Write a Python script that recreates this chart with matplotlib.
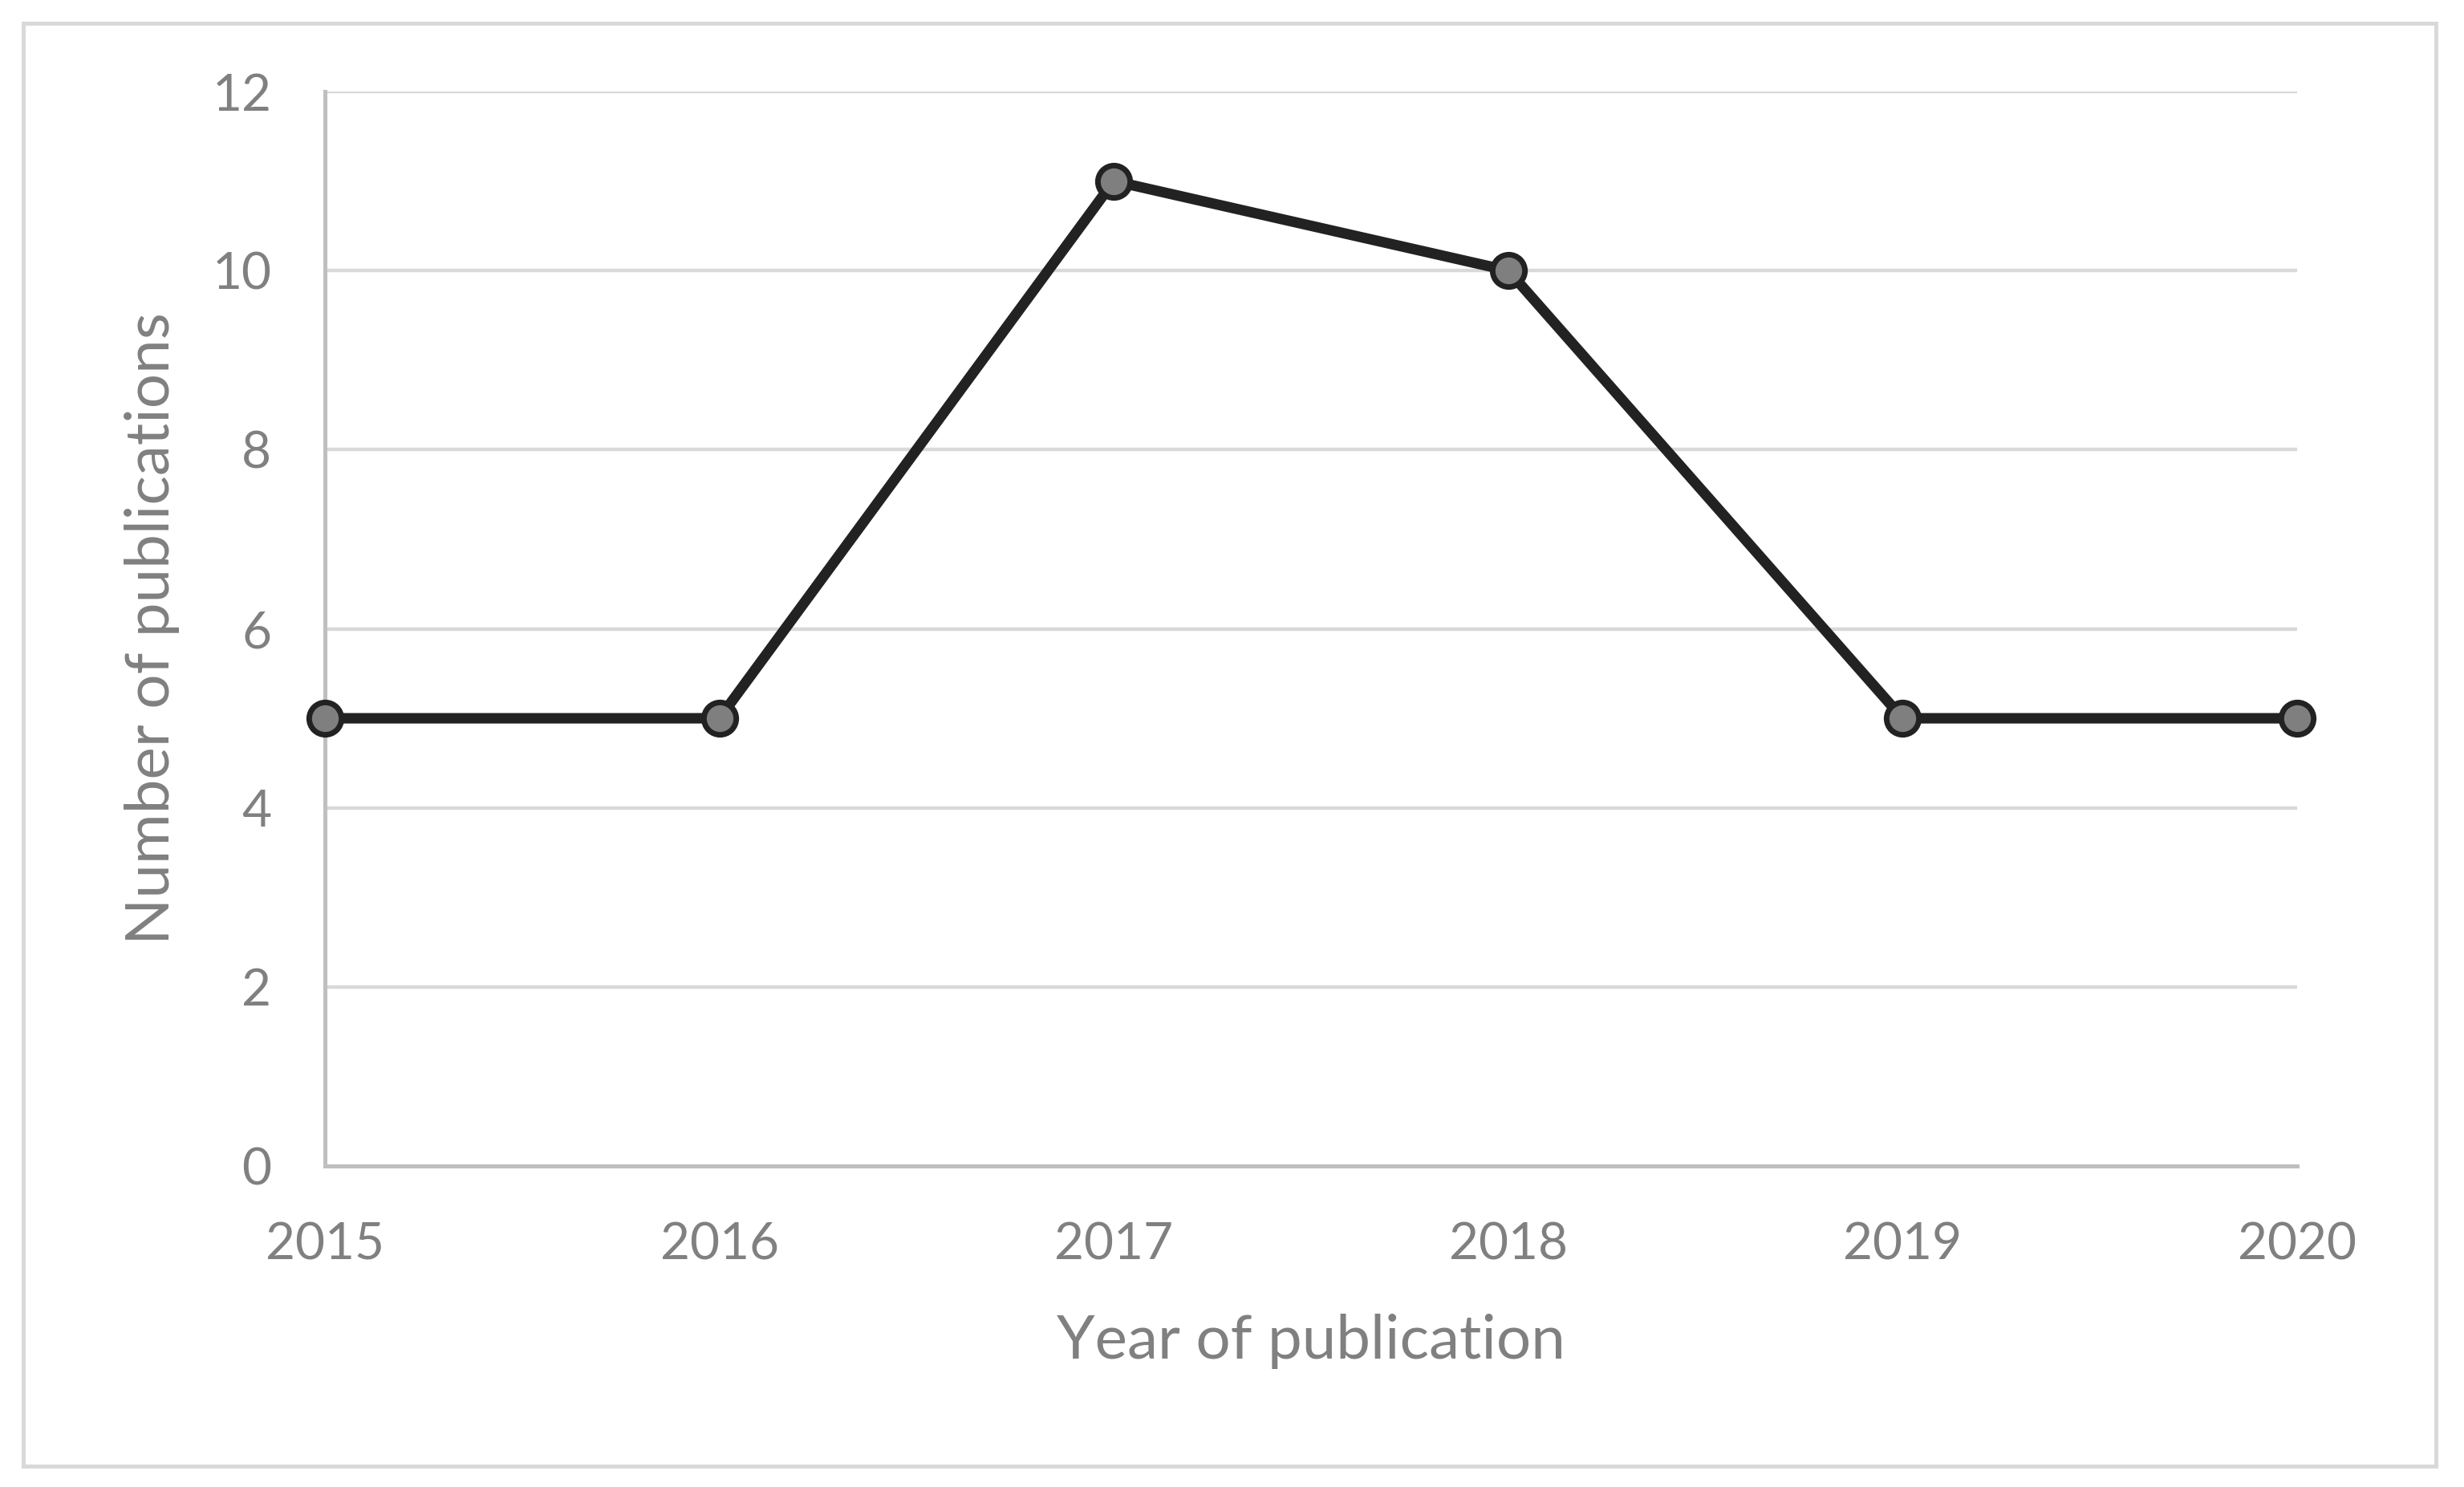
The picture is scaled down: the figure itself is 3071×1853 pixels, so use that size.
import matplotlib
matplotlib.use('Agg')
import matplotlib.pyplot as plt
from matplotlib.patches import Rectangle

# publications per year
years = [2015, 2016, 2017, 2018, 2019, 2020]
counts = [5, 5, 11, 10, 5, 5]
y_ticks = [0, 2, 4, 6, 8, 10, 12]

plt.rcParams['font.family'] = ['Lato', 'DejaVu Sans']

W, H = 3071, 1853
fig = plt.figure(figsize=(W / 100, H / 100), dpi=100)

# light outer frame like the Excel chart area
fig.patches.append(Rectangle((29 / W, 1 - 1827 / H), (3036 - 29) / W, (1827 - 29) / H,
                             transform=fig.transFigure, fill=False,
                             edgecolor='#D9D9D9', linewidth=3.6))

ax = fig.add_axes([405 / W, 1 - 1453 / H, (2863 - 405) / W, (1453 - 114) / H])

ax.plot(years, counts, color='#222222', linewidth=9.4, marker='o', markersize=29,
        markerfacecolor='#7F7F7F', markeredgecolor='#222222', markeredgewidth=5,
        clip_on=False, zorder=5)

ax.set_xlim(2015, 2020)
ax.set_ylim(0, 12)
ax.set_xticks(years)
ax.set_xticklabels([str(y) for y in years])
ax.set_yticks(y_ticks)

ax.grid(axis='y', color='#D9D9D9', linewidth=3.2)
ax.set_axisbelow(True)
for side in ['top', 'right']:
    ax.spines[side].set_visible(False)
for side in ['left', 'bottom']:
    ax.spines[side].set_color('#BFBFBF')
    ax.spines[side].set_linewidth(3.6)

ax.tick_params(axis='both', length=0, labelsize=46, labelcolor='#808080')
ax.tick_params(axis='y', pad=48)
ax.tick_params(axis='x', pad=50)

ax.set_xlabel('Year of publication', fontsize=55, color='#808080', va='center')
ax.set_ylabel('Number of publications', fontsize=55, color='#808080', va='center')
ax.xaxis.set_label_coords(0.5, -0.163)
ax.yaxis.set_label_coords(-0.0875, 0.5)

fig.savefig('out.png', dpi=100)
